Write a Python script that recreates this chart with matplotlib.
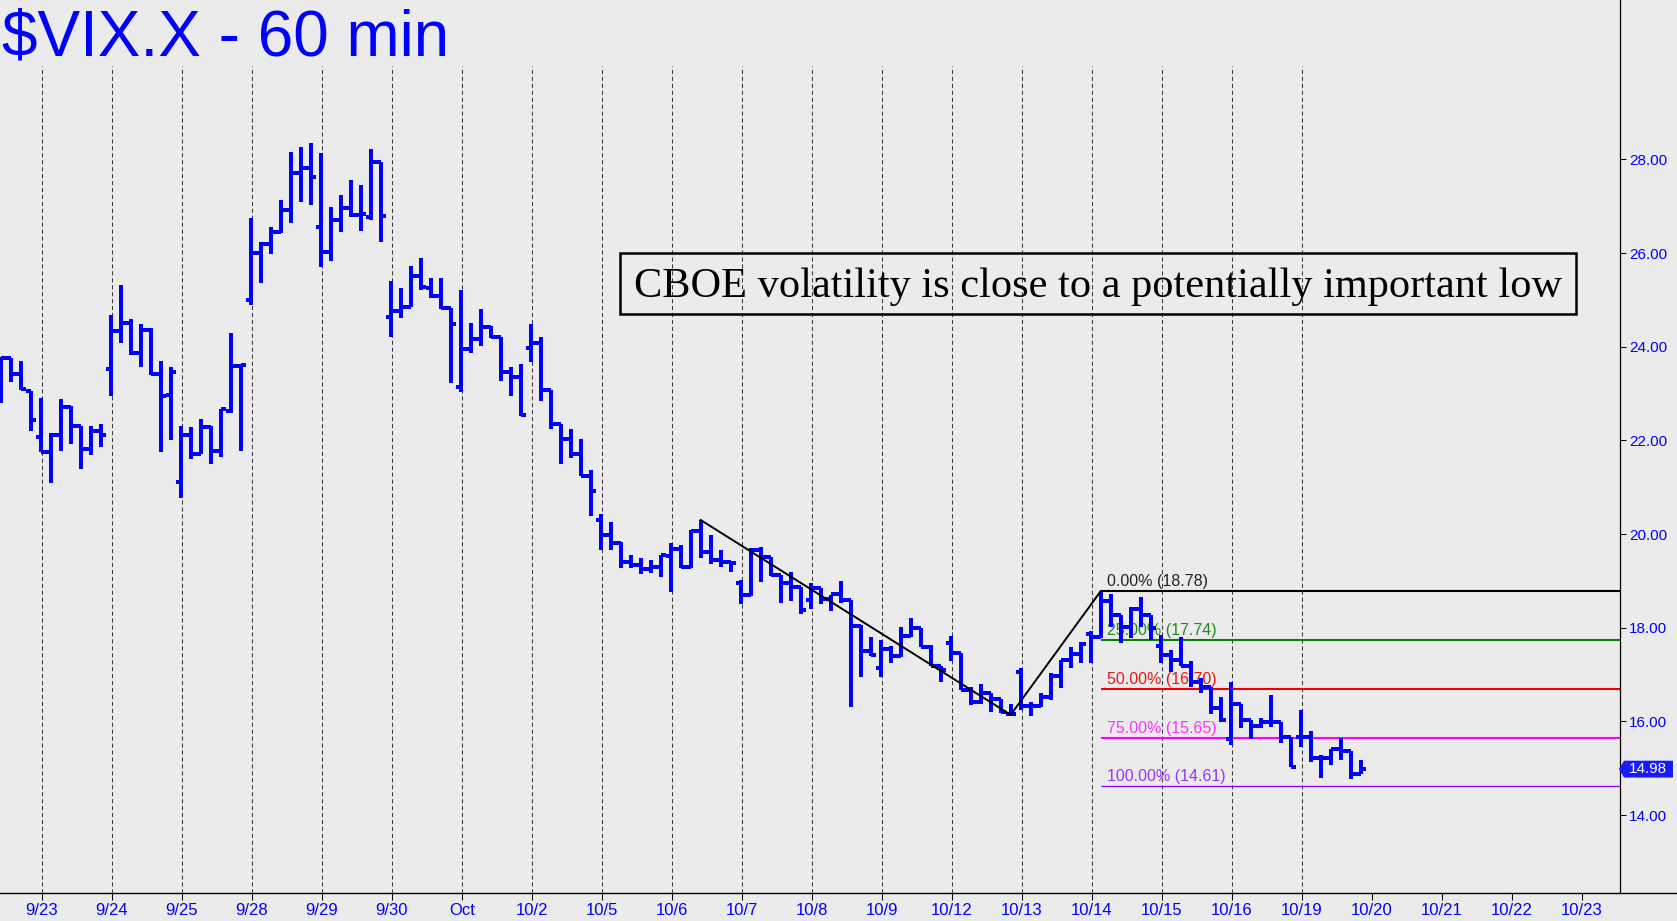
import numpy as np
import matplotlib.pyplot as plt
from matplotlib import transforms
from matplotlib.patches import Rectangle, Polygon
from matplotlib.lines import Line2D

plt.rcParams['font.family'] = ['Liberation Sans', 'DejaVu Sans']
plt.rcParams['lines.scale_dashes'] = False

# trading days shown (9/22 only partly visible, its last 4 hourly bars)
sessions = ['9/22', '9/23', '9/24', '9/25', '9/28', '9/29', '9/30', '10/1', '10/2', '10/5',
            '10/6', '10/7', '10/8', '10/9', '10/12', '10/13', '10/14', '10/15', '10/16', '10/19']
bars_per_day = 7
hidden_first_bars = 3

# x axis labels (one per day boundary, incl. empty days to the right)
day_labels = ['9/23', '9/24', '9/25', '9/28', '9/29', '9/30', 'Oct', '10/2', '10/5', '10/6',
              '10/7', '10/8', '10/9', '10/12', '10/13', '10/14', '10/15', '10/16', '10/19',
              '10/20', '10/21', '10/22', '10/23']

# 60 min OHLC
opens = [23.30, 23.75, 23.42, 23.06,
         22.07, 21.76, 22.11, 22.72, 22.31, 21.81, 22.19,
         23.52, 24.34, 24.51, 23.86, 24.36, 23.42, 22.96,
         21.12, 22.11, 21.71, 22.29, 21.78, 22.63, 23.58,
         25.00, 26.01, 26.19, 26.44, 26.93, 27.72, 27.81,
         26.55, 26.03, 26.71, 26.96, 26.81, 26.76, 27.94,
         24.63, 24.76, 24.84, 25.52, 25.25, 25.08, 24.82,
         23.15, 23.95, 24.17, 24.42, 24.20, 23.47, 23.36,
         23.97, 24.07, 23.07, 22.34, 22.02, 21.70, 21.23,
         20.30, 19.98, 19.80, 19.41, 19.34, 19.25, 19.30,
         19.53, 19.68, 19.30, 20.07, 19.62, 19.45, 19.41,
         18.95, 18.70, 19.66, 19.50, 19.13, 18.96, 18.86,
         18.60, 18.84, 18.61, 18.71, 18.59, 18.04, 17.50,
         17.13, 17.54, 17.40, 17.82, 17.99, 17.59, 17.19,
         17.67, 17.47, 16.67, 16.41, 16.61, 16.47, 16.16,
         17.06, 16.32, 16.33, 16.53, 16.97, 17.30, 17.44,
         17.86, 17.80, 18.56, 18.27, 18.02, 18.41, 18.27,
         17.61, 17.42, 17.31, 17.18, 16.83, 16.73, 16.28,
         15.62, 16.38, 16.03, 15.90, 15.99, 15.99, 15.67,
         15.67, 15.66, 15.21, 15.21, 15.40, 15.37, 14.88]
highs = [23.79, 23.75, 23.69, 23.06,
         22.90, 22.15, 22.88, 22.74, 22.31, 22.31, 22.35,
         24.67, 25.32, 24.60, 24.49, 24.39, 23.69, 23.56,
         22.31, 22.28, 22.45, 22.31, 22.68, 24.29, 23.63,
         26.74, 26.24, 26.56, 27.13, 28.15, 28.26, 28.34,
         28.13, 26.98, 27.23, 27.56, 27.45, 28.22, 27.94,
         25.41, 25.25, 25.72, 25.89, 25.46, 25.46, 24.82,
         25.22, 24.50, 24.80, 24.44, 24.20, 23.56, 23.64,
         24.48, 24.20, 23.08, 22.34, 22.24, 22.04, 21.37,
         20.43, 20.26, 19.82, 19.55, 19.48, 19.45, 19.55,
         19.80, 19.77, 20.09, 20.30, 19.98, 19.67, 19.42,
         19.02, 19.71, 19.73, 19.50, 19.13, 19.20, 18.86,
         18.95, 18.84, 18.70, 19.00, 18.59, 18.05, 17.81,
         17.74, 17.61, 18.01, 18.20, 17.99, 17.63, 17.19,
         17.82, 17.47, 16.74, 16.80, 16.61, 16.47, 16.37,
         17.13, 16.42, 16.60, 17.03, 17.32, 17.58, 17.70,
         17.92, 18.78, 18.73, 18.27, 18.45, 18.66, 18.27,
         17.85, 17.53, 17.80, 17.28, 16.92, 16.73, 16.53,
         16.85, 16.38, 16.03, 16.07, 16.56, 15.99, 15.67,
         16.24, 15.79, 15.28, 15.40, 15.64, 15.37, 15.17]
lows = [22.79, 23.25, 23.08, 22.21,
        21.76, 21.10, 21.78, 21.92, 21.38, 21.69, 21.85,
        22.95, 24.09, 23.82, 23.56, 23.40, 21.76, 22.00,
        20.76, 21.60, 21.71, 21.49, 21.64, 22.58, 21.78,
        24.89, 25.37, 25.99, 26.42, 26.64, 27.10, 27.02,
        25.71, 25.82, 26.46, 26.78, 26.48, 26.71, 26.24,
        24.21, 24.61, 24.84, 25.21, 25.03, 24.80, 23.22,
        23.04, 23.86, 24.02, 24.18, 23.27, 22.95, 22.53,
        23.68, 22.85, 22.24, 21.49, 21.62, 21.23, 20.39,
        19.66, 19.66, 19.27, 19.27, 19.15, 19.16, 19.09,
        18.77, 19.27, 19.27, 19.48, 19.36, 19.29, 19.18,
        18.51, 18.68, 18.98, 19.10, 18.52, 18.56, 18.29,
        18.41, 18.51, 18.36, 18.53, 16.30, 16.94, 17.40,
        16.95, 17.24, 17.38, 17.81, 17.58, 17.18, 16.85,
        17.28, 16.66, 16.35, 16.37, 16.19, 16.17, 16.14,
        16.25, 16.12, 16.31, 16.46, 16.71, 17.13, 17.25,
        17.24, 17.78, 18.02, 17.68, 17.77, 18.02, 17.74,
        17.24, 17.06, 17.18, 16.73, 16.60, 16.16, 15.99,
        15.50, 15.85, 15.62, 15.85, 15.89, 15.53, 15.02,
        15.45, 15.13, 14.80, 15.07, 15.17, 14.78, 14.88]
closes = [23.75, 23.42, 23.09, 22.43,
          21.76, 22.11, 22.72, 22.31, 21.81, 22.19, 22.11,
          24.34, 24.51, 23.86, 24.36, 23.42, 22.95, 23.45,
          22.11, 21.71, 22.29, 21.78, 22.68, 23.58, 23.61,
          26.01, 26.19, 26.44, 26.93, 27.72, 27.81, 27.62,
          26.03, 26.71, 26.96, 26.81, 26.83, 27.94, 26.80,
          24.76, 24.84, 25.52, 25.27, 25.08, 24.82, 24.48,
          23.95, 24.17, 24.42, 24.20, 23.47, 23.36, 22.54,
          24.07, 23.07, 22.34, 22.02, 21.70, 21.23, 20.91,
          19.98, 19.80, 19.41, 19.34, 19.25, 19.30, 19.55,
          19.68, 19.30, 20.07, 19.62, 19.45, 19.41, 19.39,
          18.70, 19.66, 19.50, 19.13, 18.96, 18.86, 18.38,
          18.84, 18.61, 18.71, 18.59, 18.04, 17.50, 17.42,
          17.54, 17.40, 17.82, 17.99, 17.59, 17.19, 17.10,
          17.47, 16.67, 16.41, 16.61, 16.47, 16.21, 16.15,
          16.32, 16.33, 16.53, 16.97, 17.30, 17.44, 17.65,
          17.80, 18.56, 18.27, 18.02, 18.41, 18.27, 17.99,
          17.42, 17.31, 17.18, 16.83, 16.73, 16.28, 16.02,
          16.38, 16.03, 15.90, 15.99, 15.99, 15.67, 15.02,
          15.66, 15.21, 15.21, 15.40, 15.37, 14.88, 14.98]

# swing points of the drawn trend line: (day, bar of day, price)
swings = [('10/6', 3, 20.30), ('10/12', 6, 16.14), ('10/14', 1, 18.78)]

# retracement levels
fib_pct = ['0.00%', '25.00%', '50.00%', '75.00%', '100.00%']
fib_levels = [18.78, 17.74, 16.70, 15.65, 14.61]
fib_colors = ['#000000', '#0a7d0a', '#ee0000', '#ff00ff', '#8000ff']
fib_text_colors = ['#222222', '#1e8a1e', '#e81818', '#ff33ff', '#9933ff']

last_price = closes[-1]

bg = '#ebebeb'
blue = '#0000ff'

fig = plt.figure(figsize=(16.77, 9.21), dpi=100, facecolor=bg)
ax = fig.add_axes([0, 28 / 921, 1620 / 1677, 893 / 921], facecolor=bg)

xpos = np.arange(len(opens)) + hidden_first_bars
xmin, xmax = 2.93, 164.93
ymin, ymax = 12.335, 31.404

def bar_pos(day, k):
    return sessions.index(day) * bars_per_day + k

# day separators
day_x = np.arange(1, len(day_labels) + 1) * bars_per_day + 0.1
n_past = len(sessions) - 1
ax.vlines(day_x[:n_past], ymin, 30.0, colors='#3c3c3c', lw=0.75,
          linestyles=(0, (3, 2)), zorder=1)

# fib lines + labels
fib_start = bar_pos('10/14', 1)
for pct, lev, c, tc in zip(fib_pct, fib_levels, fib_colors, fib_text_colors):
    ax.hlines(lev, fib_start, xmax, colors=c, lw=0.9 if pct == '100.00%' else 1.5, zorder=2)
    ax.annotate(f'{pct} ({lev:.2f})', (fib_start, lev), xytext=(6, 5),
                textcoords='offset pixels', color=tc, fontsize=11.5, zorder=2.5)

# OHLC bars (crisp, like the original charting package)
ax.vlines(xpos, lows, highs, colors=blue, lw=1.6, zorder=3, antialiased=False)
ax.hlines(opens, xpos - 0.5, xpos, colors=blue, lw=1.6, zorder=3, antialiased=False)
ax.hlines(closes, xpos, xpos + 0.5, colors=blue, lw=1.6, zorder=3, antialiased=False)

# trend line
ax.plot([bar_pos(d, k) for d, k, p in swings], [p for d, k, p in swings],
        color='black', lw=1.4, zorder=4)

ax.set_xlim(xmin, xmax)
ax.set_ylim(ymin, ymax)

for s in ['top', 'left', 'bottom']:
    ax.spines[s].set_visible(False)
ax.spines['right'].set_color('black')
ax.spines['right'].set_linewidth(0.9)

ax.set_xticks(day_x)
ax.set_xticklabels(day_labels)
ax.tick_params(axis='x', direction='out', length=5, width=0.75, color='black',
               labelcolor=blue, labelsize=12, pad=2)

ax.yaxis.tick_right()
yt = np.arange(14, 29, 2)
ax.set_yticks(yt)
ax.set_yticklabels([f'{v:.2f}' for v in yt])
ax.tick_params(axis='y', direction='out', length=4.5, width=0.75, color='black',
               labelcolor=blue, labelsize=11, pad=2)

# bottom axis line across the whole figure
fig.add_artist(Line2D([0, 1], [28 / 921, 28 / 921], transform=fig.transFigure,
                      color='black', lw=1.0))

# last price flag
tr = transforms.blended_transform_factory(fig.transFigure, ax.transData)
h = 0.18
flag = Polygon([(1619 / 1677, last_price), (1624 / 1677, last_price + h),
                (1673 / 1677, last_price + h), (1673 / 1677, last_price - h),
                (1624 / 1677, last_price - h)], closed=True, transform=tr,
               facecolor='#1a1aff', edgecolor='none', clip_on=False)
fig.add_artist(flag)
fig.text(1648 / 1677, last_price, f'{last_price:.2f}', transform=tr, color='white',
         fontsize=11, ha='center', va='center')

# title
fig.text(2 / 1677, 1 - 56 / 921, '\\$VIX.X - 60 min', fontsize=46, color=blue,
         ha='left', va='baseline')

# comment box
fig.add_artist(Rectangle((620 / 1677, 1 - 314.5 / 921), 956 / 1677, 61 / 921,
                         transform=fig.transFigure, fill=False, ec='black', lw=1.8))
fig.text(1098 / 1677, 1 - 297 / 921, 'CBOE volatility is close to a potentially important low',
         family='Liberation Serif', fontsize=30.5, color='black', ha='center', va='baseline')

fig.savefig('out.png', dpi=100, facecolor=bg)
